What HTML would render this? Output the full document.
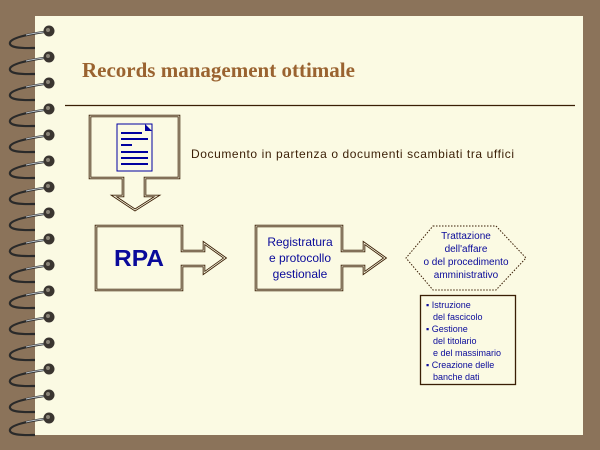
<!DOCTYPE html>
<html><head><meta charset="utf-8"><style>
html,body{margin:0;padding:0;background:#8B735A;}
svg{display:block;}
text{font-family:"Liberation Sans",sans-serif;}
</style></head><body>
<svg width="600" height="450" viewBox="0 0 600 450" xmlns="http://www.w3.org/2000/svg">
<defs>
<g id="r">
<path d="M44,32 C30,34 8,38 10,44 C12,49 28,48 35,48" fill="none" stroke="#2a2a2a" stroke-width="2.2"/>
<path d="M44,32 C36,33 30,34 26,35" fill="none" stroke="#b8c0c8" stroke-width="1"/>
<circle cx="49" cy="31" r="5.5" fill="#3a3530"/>
<circle cx="48" cy="30" r="2" fill="#8a8478"/>
</g>
</defs>
<rect width="600" height="450" fill="#8B735A"/>
<rect x="35" y="16" width="548" height="419" fill="#FBFAE3"/>
<g>
<use href="#r" y="0"/>
<use href="#r" y="26"/><use href="#r" y="52"/><use href="#r" y="78"/><use href="#r" y="104"/>
<use href="#r" y="130"/><use href="#r" y="156"/><use href="#r" y="182"/><use href="#r" y="208"/>
<use href="#r" y="234"/><use href="#r" y="260"/><use href="#r" y="286"/><use href="#r" y="312"/>
<use href="#r" y="338"/><use href="#r" y="364"/><use href="#r" y="387"/>
</g>
<text x="82" y="77" font-weight="bold" font-size="21" fill="#9A6330" style="font-family:'Liberation Serif',serif">Records management ottimale</text>
<line x1="65" y1="105.5" x2="575" y2="105.5" stroke="#3a1e05" stroke-width="1.2"/>
<g fill="none" stroke="#3a1e05" stroke-width="1">
<path d="M90,116 H179 V178 H145 V196 H157 L135,210 L114,196 H123 V178 H90 Z" stroke-width="2.6"/>
<path d="M90,116 H179 V178 H145 V196 H157 L135,210 L114,196 H123 V178 H90 Z" stroke="#FBFAE3" stroke-width="0.8"/>
<path d="M96,226 H182 V251 H204 V243 L225,258 L204,273 V266 H182 V290 H96 Z" stroke-width="2.6"/>
<path d="M96,226 H182 V251 H204 V243 L225,258 L204,273 V266 H182 V290 H96 Z" stroke="#FBFAE3" stroke-width="0.8"/>
<path d="M256,226 H342 V251 H364 V243 L385,258 L364,273 V266 H342 V290 H256 Z" stroke-width="2.6"/>
<path d="M256,226 H342 V251 H364 V243 L385,258 L364,273 V266 H342 V290 H256 Z" stroke="#FBFAE3" stroke-width="0.8"/>
<path d="M433,226 H496 L526,258 L496,290 H433 L406,258 Z" stroke-dasharray="1.5,1.5"/>
<rect x="420.5" y="295.5" width="95" height="89" stroke-width="1.3"/>
</g>
<rect x="117" y="124" width="35" height="47" fill="#FBFAE3" stroke="#0000a0" stroke-width="1"/>
<path d="M145,124 L152,131 L145,131 Z" fill="#0000a0"/>
<g stroke="#0000a0" stroke-width="2">
<line x1="121" y1="133" x2="142" y2="133"/><line x1="121" y1="139" x2="148" y2="139"/>
<line x1="121" y1="145" x2="132" y2="145"/><line x1="121" y1="152" x2="148" y2="152"/>
<line x1="121" y1="158" x2="148" y2="158"/><line x1="121" y1="164" x2="148" y2="164"/>
</g>
<text x="191" y="158" font-size="12" fill="#3a1e05" textLength="323" lengthAdjust="spacing">Documento in partenza o documenti scambiati tra uffici</text>
<text x="114" y="266" font-size="23" font-weight="bold" fill="#0a0a9a" textLength="50" lengthAdjust="spacingAndGlyphs">RPA</text>
<g font-size="12" fill="#0a0a9a" text-anchor="middle">
<text x="300" y="246">Registratura</text>
<text x="300" y="262">e protocollo</text>
<text x="300" y="278">gestionale</text>
</g>
<g font-size="10" fill="#0a0a9a" text-anchor="middle">
<text x="466" y="239">Trattazione</text>
<text x="466" y="252">dell'affare</text>
<text x="466" y="265">o del procedimento</text>
<text x="466" y="278">amministrativo</text>
</g>
<g font-size="9" fill="#0a0a9a">
<text x="426" y="308">▪ Istruzione</text>
<text x="433" y="320">del fascicolo</text>
<text x="426" y="332">▪ Gestione</text>
<text x="433" y="344">del titolario</text>
<text x="433" y="356">e del massimario</text>
<text x="426" y="368">▪ Creazione delle</text>
<text x="433" y="380">banche dati</text>
</g>
</svg>
</body></html>
